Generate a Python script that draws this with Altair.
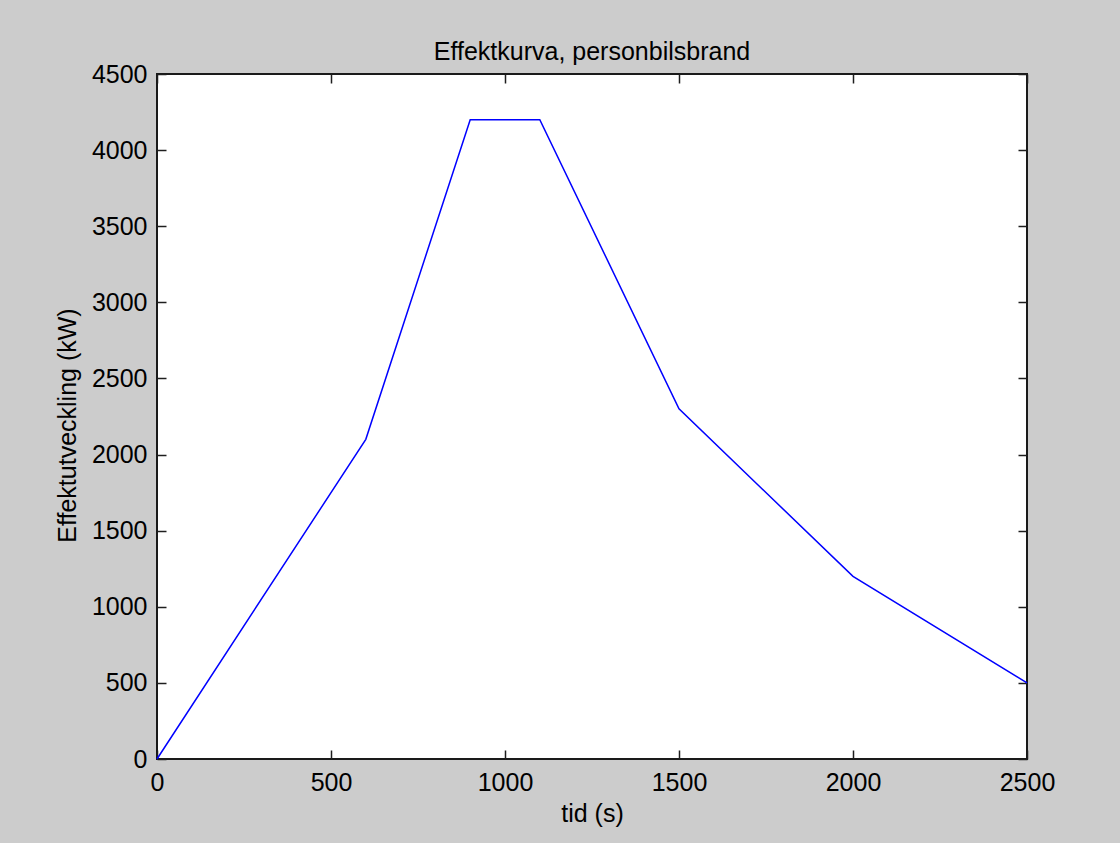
import altair as alt
import pandas as pd

# ---- data ----
time_s = [0, 600, 900, 1100, 1500, 2000, 2500]
power_kw = [0, 2100, 4200, 4200, 2300, 1200, 500]
x_ticks = [0, 500, 1000, 1500, 2000, 2500]
y_ticks = [0, 500, 1000, 1500, 2000, 2500, 3000, 3500, 4000, 4500]
chart_title = "Effektkurva, personbilsbrand"
x_title = "tid (s)"
y_title = "Effektutveckling (kW)"

df = pd.DataFrame({"t": time_s, "p": power_kw})

FONT = "Liberation Sans, Arial, sans-serif"
FS = 25
TICK_COLOR = "#1e1e1e"

xs = alt.Scale(domain=[0, 2500], nice=False, zero=False)
ys = alt.Scale(domain=[0, 4500], nice=False, zero=False)


def label_axis(orient, values, title, label_pad, title_pad, **extra):
    return alt.Axis(
        orient=orient, values=values, ticks=False, tickSize=0, domain=False,
        grid=False, labelPadding=label_pad, labelFontSize=FS, labelFont=FONT,
        labelColor="#000000", labelFlush=False, labelOverlap=False, format="d",
        title=title, titleFont=FONT, titleFontSize=FS, titleFontWeight="normal",
        titleColor="#000000", titlePadding=title_pad, **extra,
    )


def tick_axis(orient, values):
    return alt.Axis(
        orient=orient, values=values, ticks=True, tickSize=9, tickWidth=1.5,
        tickColor=TICK_COLOR, labels=False, domain=False, grid=False,
        title=None, offset=-9,
    )


base = alt.Chart(df)

main = base.mark_line(color="#0000ff", strokeWidth=1.5).encode(
    x=alt.X("t:Q", scale=xs, axis=label_axis("bottom", x_ticks, x_title, 11, 6)),
    y=alt.Y("p:Q", scale=ys,
            axis=label_axis("left", y_ticks, y_title, 10, 11, titleY=351)),
)

inner_ticks = base.mark_line(strokeOpacity=0).encode(
    x=alt.X("t:Q", scale=xs, axis=tick_axis("bottom", x_ticks)),
    y=alt.Y("p:Q", scale=ys, axis=tick_axis("left", y_ticks)),
)

mirror_ticks = base.mark_line(strokeOpacity=0).encode(
    x=alt.X("t:Q", scale=xs, axis=tick_axis("top", x_ticks)),
    y=alt.Y("p:Q", scale=ys, axis=tick_axis("right", y_ticks)),
)

chart = (
    alt.layer(inner_ticks, mirror_ticks, main)
    .resolve_axis(x="independent", y="independent")
    .properties(
        width=870,
        height=685,
        autosize=alt.AutoSizeParams(type="none"),
        padding={"left": 157, "top": 74, "right": 93, "bottom": 84},
        background="#cccccc",
        title=alt.TitleParams(
            chart_title, font=FONT, fontSize=FS, fontWeight="normal",
            color="#000000", anchor="middle", frame="group",
            baseline="alphabetic", offset=18, dy=41,
        ),
    )
    .configure_view(stroke="#1a1a1a", strokeWidth=2, fill="#ffffff")
)

chart.save("out.html", embed_options={"renderer": "svg", "actions": False})
